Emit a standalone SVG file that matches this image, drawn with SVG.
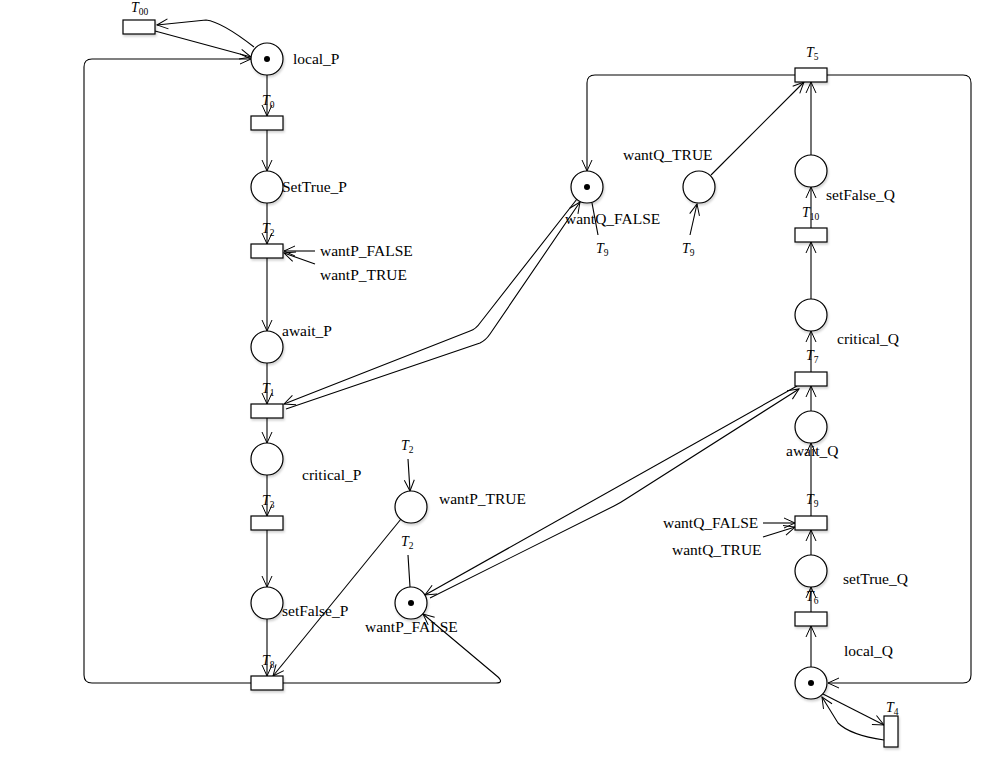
<svg xmlns="http://www.w3.org/2000/svg" width="1002" height="765" viewBox="0 0 1002 765">
<defs>
<marker id="arr" markerUnits="userSpaceOnUse" markerWidth="14" markerHeight="14" refX="11" refY="5" orient="auto-start-reverse" viewBox="-1 -1 14 12">
<path d="M0,0 L11,5 L0,10" fill="none" stroke="#000" stroke-width="1"/>
</marker>
<filter id="sh" x="-30%" y="-30%" width="160%" height="160%">
<feDropShadow dx="1" dy="2" stdDeviation="1.2" flood-color="#000" flood-opacity="0.18"/>
</filter>
</defs>
<style>
.pl{fill:#fff;stroke:#000;stroke-width:1.2;filter:url(#sh)}
.tr{fill:#fff;stroke:#000;stroke-width:1.2;filter:url(#sh)}
.tok{fill:#000}
.lb{font-family:"Liberation Serif","DejaVu Serif",serif;font-size:15.5px;fill:#000}
.tl{font-family:"Liberation Serif","DejaVu Serif",serif;font-size:14px;font-style:italic;fill:#000}
.sub{font-size:9.5px;font-style:normal}
.c{fill:none;stroke:#000;stroke-width:1.1}
.a{marker-end:url(#arr)}
</style>
<rect width="1002" height="765" fill="#fff"/>
<g id="connectors">
<path class="c a" d="M267,75 L267,116"/>
<path class="c a" d="M267,130 L267,171"/>
<path class="c a" d="M267,203 L267,244"/>
<path class="c a" d="M315,251 L284,251"/>
<path class="c a" d="M315,264 L284,253"/>
<path class="c a" d="M267,258 L267,331"/>
<path class="c a" d="M267,363 L267,404"/>
<path class="c a" d="M267,418 L267,443"/>
<path class="c a" d="M267,475 L267,516"/>
<path class="c a" d="M267,530 L267,587"/>
<path class="c a" d="M267,619 L267,676"/>
<path class="c a" d="M251,683 L92,683 Q84,683 84,675 L84,67 Q84,59 92,59 L251,59"/>
<path class="c a" d="M283,683 L496,683 Q504,683 498,677 L423,614"/>
<path class="c a" d="M401,519 L273,676"/>
<path class="c a" d="M408,459 L410,491"/>
<path class="c" d="M408,555 L410,587"/>
<path class="c a" d="M577,199 L480,323 Q476,329 470,331 L284,404"/>
<path class="c a" d="M286,409 L480,343 Q486,340 490,334 L580,202"/>
<path class="c a" d="M797,386 L425,595"/>
<path class="c a" d="M430,598 L614,506 Q620,503 626,499 L799,389"/>
<path class="c a" d="M795,75 L595,75 Q587,75 587,83 L587,171"/>
<path class="c a" d="M711,175 L804,82"/>
<path class="c" d="M592,203 L598,235"/>
<path class="c a" d="M690,235 L697,204"/>
<path class="c a" d="M811,155 L811,82"/>
<path class="c a" d="M811,228 L811,187"/>
<path class="c a" d="M811,299 L811,242"/>
<path class="c a" d="M811,372 L811,331"/>
<path class="c a" d="M811,411 L811,386"/>
<path class="c a" d="M811,516 L811,443"/>
<path class="c a" d="M811,555 L811,530"/>
<path class="c a" d="M811,612 L811,587"/>
<path class="c a" d="M811,667 L811,626"/>
<path class="c a" d="M827,75 L963,75 Q971,75 971,83 L971,675 Q971,683 963,683 L828,683"/>
<path class="c a" d="M763,523 L795,523"/>
<path class="c a" d="M763,537 L795,527"/>
<path class="c a" d="M823,694 L884,725"/>
<path class="c a" d="M884,740 Q850,735 838,723 L822,697"/>
<path class="c a" d="M155,31 L251,57"/>
<path class="c a" d="M254,47 Q222,22 206,20 L157,25"/>
</g>
<g id="T00"><rect class="tr" x="123" y="20" width="32" height="14"/><text class="tl" x="131" y="12">T<tspan class="sub" dy="3">00</tspan></text></g>
<g id="local_P"><circle class="pl" cx="267" cy="59" r="16"/><circle class="tok" cx="267" cy="59" r="3"/><text class="lb" x="293" y="64">local_P</text></g>
<g id="T0"><rect class="tr" x="251" y="116" width="32" height="14"/><text class="tl" x="262" y="105">T<tspan class="sub" dy="3">0</tspan></text></g>
<g id="SetTrue_P"><circle class="pl" cx="267" cy="187" r="16"/><text class="lb" x="282" y="192">SetTrue_P</text></g>
<g id="T2"><rect class="tr" x="251" y="244" width="32" height="14"/><text class="tl" x="262" y="233">T<tspan class="sub" dy="3">2</tspan></text><text class="lb" x="320" y="256">wantP_FALSE</text><text class="lb" x="320" y="280">wantP_TRUE</text></g>
<g id="await_P"><circle class="pl" cx="267" cy="347" r="16"/><text class="lb" x="282" y="336">await_P</text></g>
<g id="T1"><rect class="tr" x="251" y="404" width="32" height="14"/><text class="tl" x="262" y="393">T<tspan class="sub" dy="3">1</tspan></text></g>
<g id="critical_P"><circle class="pl" cx="267" cy="459" r="16"/><text class="lb" x="302" y="480">critical_P</text></g>
<g id="T3"><rect class="tr" x="251" y="516" width="32" height="14"/><text class="tl" x="262" y="505">T<tspan class="sub" dy="3">3</tspan></text></g>
<g id="setFalse_P"><circle class="pl" cx="267" cy="603" r="16"/><text class="lb" x="282" y="616">setFalse_P</text></g>
<g id="T8"><rect class="tr" x="251" y="676" width="32" height="14"/><text class="tl" x="262" y="665">T<tspan class="sub" dy="3">8</tspan></text></g>
<g id="wantP_TRUE"><circle class="pl" cx="411" cy="507" r="16"/><text class="lb" x="439" y="504">wantP_TRUE</text><text class="tl" x="401" y="450">T<tspan class="sub" dy="3">2</tspan></text></g>
<g id="wantP_FALSE"><circle class="pl" cx="411" cy="603" r="16"/><circle class="tok" cx="411" cy="603" r="3"/><text class="lb" x="365" y="632">wantP_FALSE</text><text class="tl" x="401" y="546">T<tspan class="sub" dy="3">2</tspan></text></g>
<g id="wantQ_FALSE"><circle class="pl" cx="587" cy="187" r="16"/><circle class="tok" cx="587" cy="187" r="3"/><text class="lb" x="565" y="224">wantQ_FALSE</text><text class="tl" x="596" y="253">T<tspan class="sub" dy="3">9</tspan></text></g>
<g id="wantQ_TRUE"><circle class="pl" cx="699" cy="187" r="16"/><text class="lb" x="623" y="160">wantQ_TRUE</text><text class="tl" x="682" y="253">T<tspan class="sub" dy="3">9</tspan></text></g>
<g id="T5"><rect class="tr" x="795" y="68" width="32" height="14"/><text class="tl" x="806" y="57">T<tspan class="sub" dy="3">5</tspan></text></g>
<g id="setFalse_Q"><circle class="pl" cx="811" cy="171" r="16"/><text class="lb" x="826" y="200">setFalse_Q</text></g>
<g id="T10"><rect class="tr" x="795" y="228" width="32" height="14"/><text class="tl" x="802" y="217">T<tspan class="sub" dy="3">10</tspan></text></g>
<g id="critical_Q"><circle class="pl" cx="811" cy="315" r="16"/><text class="lb" x="837" y="344">critical_Q</text></g>
<g id="T7"><rect class="tr" x="795" y="372" width="32" height="14"/><text class="tl" x="806" y="360">T<tspan class="sub" dy="3">7</tspan></text></g>
<g id="await_Q"><circle class="pl" cx="811" cy="427" r="16"/><text class="lb" x="786" y="456">await_Q</text></g>
<g id="T9"><rect class="tr" x="795" y="516" width="32" height="14"/><text class="tl" x="806" y="504">T<tspan class="sub" dy="3">9</tspan></text><text class="lb" x="663" y="528">wantQ_FALSE</text><text class="lb" x="672" y="555">wantQ_TRUE</text></g>
<g id="setTrue_Q"><circle class="pl" cx="811" cy="571" r="16"/><text class="lb" x="843" y="584">setTrue_Q</text></g>
<g id="T6"><rect class="tr" x="795" y="612" width="32" height="14"/><text class="tl" x="806" y="601">T<tspan class="sub" dy="3">6</tspan></text></g>
<g id="local_Q"><circle class="pl" cx="811" cy="683" r="16"/><circle class="tok" cx="811" cy="683" r="3"/><text class="lb" x="844" y="656">local_Q</text></g>
<g id="T4"><rect class="tr" x="884" y="716" width="14" height="31"/><text class="tl" x="886" y="712">T<tspan class="sub" dy="3">4</tspan></text></g>
</svg>
